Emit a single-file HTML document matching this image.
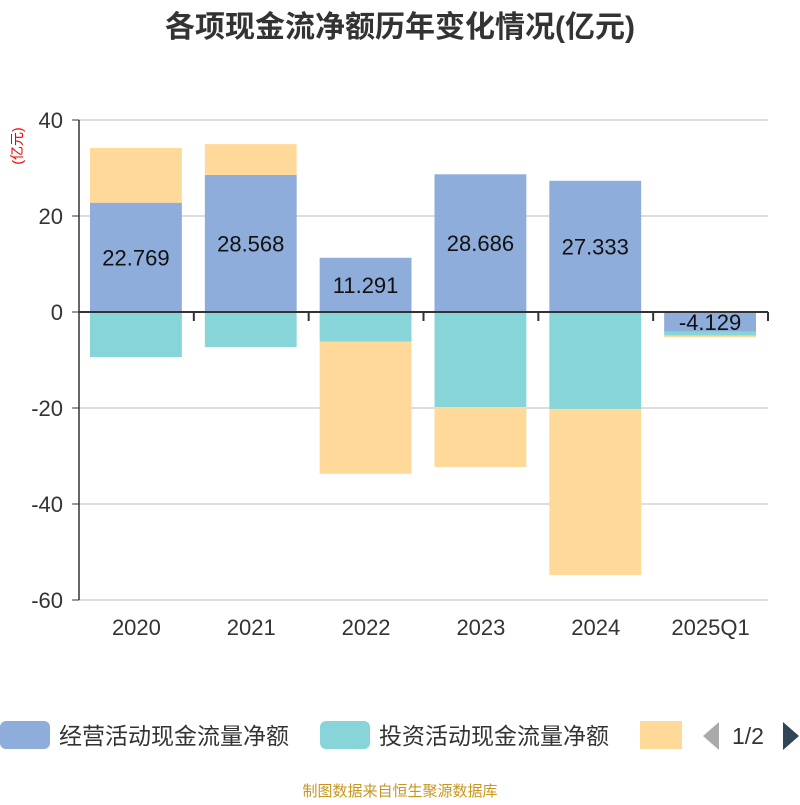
<!DOCTYPE html>
<html><head><meta charset="utf-8"><style>
body{margin:0;background:#fff;width:800px;height:800px;overflow:hidden;font-family:"Liberation Sans","Noto Sans CJK SC",sans-serif}
</style></head><body>
<svg id="c" width="800" height="800" xmlns="http://www.w3.org/2000/svg">
<text x="400" y="37" text-anchor="middle" font-size="30" font-weight="bold" fill="#333" font-family="Liberation Sans, Noto Sans CJK SC, sans-serif">各项现金流净额历年变化情况(亿元)</text>
<text transform="translate(22,146) rotate(-90)" text-anchor="middle" font-size="14" fill="#e00" font-family="Liberation Sans, Noto Sans CJK SC, sans-serif">(亿元)</text>
<g id="grid"></g><g id="bars"></g><g id="axes"></g>
<g font-size="23" fill="#333" font-family="Liberation Sans, Noto Sans CJK SC, sans-serif">
<rect x="0" y="721" width="50" height="28" rx="6" fill="#8eadda"/>
<text x="59" y="744">经营活动现金流量净额</text>
<rect x="320" y="721" width="50" height="28" rx="6" fill="#87d5d8"/>
<text x="379" y="744">投资活动现金流量净额</text>
<rect x="640" y="721" width="42" height="28" fill="#ffd99a"/>
<polygon points="719,722 719,750 703,736" fill="#aaa"/>
<text x="732" y="744">1/2</text>
<polygon points="783,722 783,750 799,736" fill="#2f4554"/>
</g>
<text x="400" y="796" text-anchor="middle" font-size="15" fill="#c8961e" font-family="Liberation Sans, Noto Sans CJK SC, sans-serif">制图数据来自恒生聚源数据库</text>
</svg>
<script>
const categories=["2020","2021","2022","2023","2024","2025Q1"];
const operating=[22.769,28.568,11.291,28.686,27.333,-4.129];
const investing=[-9.4,-7.3,-6.2,-19.8,-20.2,-0.8];
const financing=[11.4,6.4,-27.5,-12.5,-34.6,-0.3];
const yTicks=[40,20,0,-20,-40,-60];
const NS="http://www.w3.org/2000/svg";
const x0=79,x1=768,yTop=120,yBot=600,vMax=40,vMin=-60;
const y=v=>yTop+(vMax-v)/(vMax-vMin)*(yBot-yTop);
const bw=(x1-x0)/categories.length;
function mk(t,a,p){const e=document.createElementNS(NS,t);for(const k in a)e.setAttribute(k,a[k]);p.appendChild(e);return e;}
const grid=document.getElementById('grid'),bars=document.getElementById('bars'),axes=document.getElementById('axes');
yTicks.forEach(v=>{
 if(v!==0){const l=mk('line',{x1:x0,x2:x1,y1:y(v),y2:y(v),stroke:'#bbb'},grid);
 
 }
 const t=mk('text',{x:x0-16,y:y(v)+8,'text-anchor':'end','font-size':22,fill:'#333'},axes);t.textContent=v;
 
 
 mk('line',{x1:x0-7,x2:x0,y1:y(v),y2:y(v),stroke:'#333'},axes);
});
const series=[[operating,'#8eadda','operating'],[investing,'#87d5d8','investing'],[financing,'#ffd99a','financing']];
categories.forEach((c,i)=>{
 let pos=0,neg=0;const bx=x0+i*bw+11,w=bw-23;
 series.forEach(([arr,col,nm])=>{
  const v=arr[i];let a,b;
  if(v>=0){a=pos;b=pos+v;pos=b;}else{a=neg;b=neg+v;neg=b;}
  const r=mk('rect',{x:bx,y:Math.min(y(a),y(b)),width:w,height:Math.abs(y(a)-y(b)),fill:col},bars);
  
  
 });
 const v=operating[i];
 const t=mk('text',{x:bx+w/2,y:(y(0)+y(v))/2+8,'text-anchor':'middle','font-size':22,fill:'#111'},bars);
 t.textContent=v.toFixed(3);
 
 
 const xt=mk('text',{x:x0+i*bw+bw/2,y:635,'text-anchor':'middle','font-size':22,fill:'#333'},axes);xt.textContent=c;
 
 
 mk('line',{x1:x0+(i+1)*bw,x2:x0+(i+1)*bw,y1:y(0),y2:y(0)+9,stroke:'#333','stroke-width':2},axes);
});
mk('line',{x1:x0,x2:x0,y1:yTop,y2:yBot,stroke:'#333','stroke-width':1.5},axes);
mk('line',{x1:x0,x2:x1,y1:y(0),y2:y(0),stroke:'#333','stroke-width':2},axes);
</script>
</body></html>
